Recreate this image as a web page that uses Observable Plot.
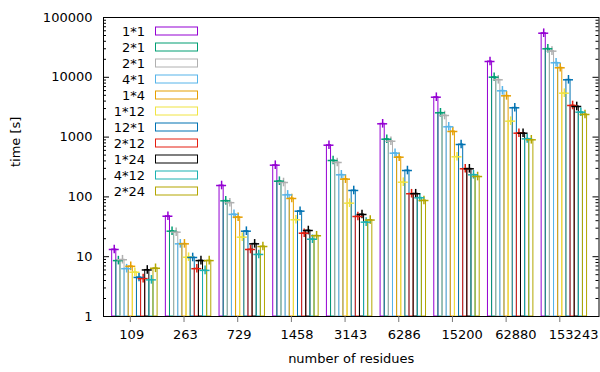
<!DOCTYPE html>
<html>
<head>
<meta charset="utf-8">
<script src="https://cdn.jsdelivr.net/npm/d3@7"></script>
<script src="https://cdn.jsdelivr.net/npm/@observablehq/plot@0.6"></script>
<style>
  html, body { margin: 0; padding: 0; background: #fff; }
  svg text { font-family: "DejaVu Sans", sans-serif; }
</style>
</head>
<body>
<div id="chart"></div>
<script>
// ---- data ----
const groups = ["109", "263", "729", "1458", "3143", "6286", "15200", "62880", "153243"];
const series = ["1*1", "2*1", "2*1", "4*1", "1*4", "1*12", "12*1", "2*12", "1*24", "4*12", "2*24"];
const colors = ["#9400d3", "#009e73", "#b0b0b0", "#56b4e9", "#e69f00", "#f0e442", "#0072b2", "#e51e10", "#000000", "#1ab1b1", "#b3a600"];

const v_1x1   = [13.2, 47.5, 155, 339, 732, 1668, 4645, 18370, 54600];
const v_2x1a  = [8.6, 26.7, 86, 183, 406, 922, 2548, 10040, 29950];
const v_2x1b  = [8.9, 25.7, 80, 174, 376, 852, 2297, 9080, 27350];
const v_4x1   = [6.3, 16.4, 51, 108, 234, 538, 1486, 5940, 17470];
const v_1x4   = [6.9, 16.4, 45.8, 94, 198, 461, 1241, 4900, 14420];
const v_1x12  = [5.5, 9.8, 21.2, 41.4, 78.5, 176, 468, 1845, 5420];
const v_12x1  = [4.5, 9.7, 26.7, 57.7, 128, 276, 752, 3090, 9080];
const v_2x12  = [4.3, 6.3, 13.2, 24.7, 47, 113, 295, 1162, 3375];
const v_1x24  = [6.0, 8.6, 16.4, 27.4, 50.8, 113, 295, 1162, 3250];
const v_4x12  = [4.1, 5.9, 10.9, 19.6, 37.8, 96.6, 234, 935, 2610];
const v_2x24  = [6.4, 8.6, 14.8, 22.4, 41, 87, 219, 901, 2388];
const values = [v_1x1, v_2x1a, v_2x1b, v_4x1, v_1x4, v_1x12, v_12x1, v_2x12, v_1x24, v_4x12, v_2x24];
const errRatio = 1.18; // approximate spread of the error bars

const yMajor = [1, 10, 100, 1000, 10000, 100000];

// ---- table ----
const rows = [];
series.forEach((s, si) => groups.forEach((g, gi) => rows.push({gi, si, v: values[si][gi]})));
const groupIdx = d3.range(groups.length);

const W = 600, H = 372;
const mL = 103, mR = 1.5, mT = 17, mB = 56;
const xDom = [-0.5, 8.73];
const pxPerUnit = (W - mL - mR) / (xDom[1] - xDom[0]);
const bw = 1 / 13, off = 3.9;
const cx = d => d.gi + (d.si - off) * bw;
const capHalf = 5 / pxPerUnit;

const yMinor = [];
for (let k = 0; k < 5; k++) for (let m = 2; m <= 9; m++) yMinor.push(m * Math.pow(10, k));

const chart = Plot.plot({
  width: W, height: H,
  marginLeft: mL, marginRight: mR, marginTop: mT, marginBottom: mB,
  style: {fontFamily: "DejaVu Sans, sans-serif", fontSize: "13px", background: "#fff", color: "#000"},
  x: {domain: xDom},
  y: {type: "log", domain: [1, 100000]},
  color: {type: "identity"},
  marks: [
    Plot.rect(rows, {
      x1: d => cx(d) - bw / 2, x2: d => cx(d) + bw / 2,
      y1: 1, y2: "v",
      fill: "none", stroke: d => colors[d.si], strokeWidth: 1
    }),
    Plot.ruleX(rows, {
      x: cx, y1: d => d.v / errRatio, y2: d => d.v * errRatio,
      stroke: d => colors[d.si], strokeWidth: 1.5
    }),
    Plot.ruleY(rows, {
      y: "v", x1: d => cx(d) - capHalf, x2: d => cx(d) + capHalf,
      stroke: d => colors[d.si], strokeWidth: 1.5
    }),
    // inward ticks, left & right
    Plot.ruleY(yMajor, {y: d => d, x1: xDom[0], x2: xDom[0] + 6 / pxPerUnit, stroke: "#000"}),
    Plot.ruleY(yMajor, {y: d => d, x1: xDom[1] - 6 / pxPerUnit, x2: xDom[1], stroke: "#000"}),
    Plot.ruleY(yMinor, {y: d => d, x1: xDom[0], x2: xDom[0] + 3 / pxPerUnit, stroke: "#000"}),
    Plot.ruleY(yMinor, {y: d => d, x1: xDom[1] - 3 / pxPerUnit, x2: xDom[1], stroke: "#000"}),
    Plot.frame({stroke: "#000", strokeWidth: 1}),
    Plot.axisY({ticks: yMajor, tickFormat: d => String(d), tickSize: 0, tickPadding: 11, label: null}),
    Plot.axisX({ticks: groupIdx, tickFormat: () => "", tickSize: 6, stroke: "#777", label: null}),
    Plot.text(groupIdx, {x: d => d, text: d => groups[d], frameAnchor: "bottom", dy: 22, dx: -11, textAnchor: "start", fill: "#000"}),
    Plot.text(["number of residues"], {frameAnchor: "bottom", dy: 46, fill: "#000"}),
    Plot.text(["time [s]"], {frameAnchor: "left", dx: -88, rotate: -90, fill: "#000"})
  ]
});

// legend inside the plot area
const svg = d3.select(chart);
const lg = svg.append("g").attr("font-family", "DejaVu Sans, sans-serif").attr("font-size", 13);
series.forEach((s, i) => {
  const yc = 31 + 16 * i;
  lg.append("text").attr("x", 145).attr("y", yc).attr("dy", "0.35em")
    .attr("text-anchor", "end").attr("fill", "#000").text(s);
  lg.append("rect").attr("x", 155.5).attr("y", yc - 4).attr("width", 42).attr("height", 8)
    .attr("fill", "#fff").attr("stroke", colors[i]).attr("stroke-width", 1);
});

document.getElementById("chart").appendChild(chart);
</script>
</body>
</html>
